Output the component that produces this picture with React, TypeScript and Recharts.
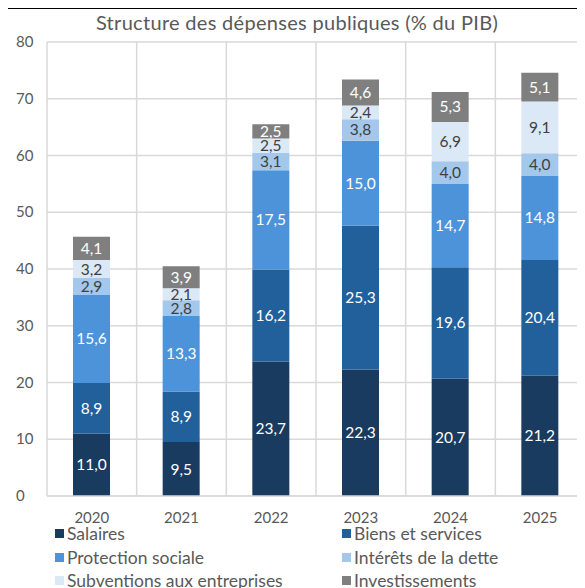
import { BarChart, Bar, XAxis, YAxis, CartesianGrid, LabelList } from 'recharts'

const years = ['2020', '2021', '2022', '2023', '2024', '2025']
const salaires = [11.0, 9.5, 23.7, 22.3, 20.7, 21.2]
const biens = [8.9, 8.9, 16.2, 25.3, 19.6, 20.4]
const protection = [15.6, 13.3, 17.5, 15.0, 14.7, 14.8]
const interets = [2.9, 2.8, 3.1, 3.8, 4.0, 4.0]
const subventions = [3.2, 2.1, 2.5, 2.4, 6.9, 9.1]
const investissements = [4.1, 3.9, 2.5, 4.6, 5.3, 5.1]
const yTicks = [0, 10, 20, 30, 40, 50, 60, 70, 80]

const FONT = 'Lato, "Open Sans", sans-serif'
const TEXT = '#595959'

const series = [
  { key: 'salaires', name: 'Salaires', color: '#183B5F', label: '#ffffff' },
  { key: 'biens', name: 'Biens et services', color: '#21609B', label: '#ffffff' },
  { key: 'protection', name: 'Protection sociale', color: '#4C93DA', label: '#ffffff' },
  { key: 'interets', name: 'Intérêts de la dette', color: '#A4C7EC', label: '#404040' },
  { key: 'subventions', name: 'Subventions aux entreprises', color: '#DBE8F6', label: '#404040' },
  { key: 'investissements', name: 'Investissements', color: '#7F7F7F', label: '#ffffff' },
]

const data = years.map((year, i) => ({
  year,
  salaires: salaires[i],
  biens: biens[i],
  protection: protection[i],
  interets: interets[i],
  subventions: subventions[i],
  investissements: investissements[i],
}))

const fmt = (v: any) => Number(v).toFixed(1).replace('.', ',')

const YTick = (props: any) => {
  const { y, payload } = props
  return (
    <text x={8} y={y} dy={5} textAnchor="start" fill={TEXT} fontSize={15} fontFamily={FONT}>
      {payload.value}
    </text>
  )
}

export default function App() {
  return (
    <div style={{ position: 'relative', width: 577, height: 580, fontFamily: FONT }}>
      <div style={{ position: 'absolute', left: 0, top: 0, width: 577, height: 1, background: '#000' }} />
      <div
        style={{
          position: 'absolute',
          left: 39,
          width: 500,
          top: 2,
          textAlign: 'center',
          fontSize: 20,
          letterSpacing: 0.3,
          color: TEXT,
        }}
      >
        Structure des dépenses publiques (% du PIB)
      </div>
      <div style={{ position: 'absolute', left: 0, top: 0 }}>
        <BarChart width={577} height={520} data={data} margin={{ top: 34, right: 0, bottom: 0, left: 0 }}>
          <CartesianGrid
            stroke="#d9d9d9"
            strokeWidth={1.5}
            verticalCoordinatesGenerator={({ offset }: any) =>
              years.map((_, i) => offset.left + (i * offset.width) / years.length).concat([offset.left + offset.width])
            }
          />
          <XAxis
            dataKey="year"
            height={32}
            axisLine={{ stroke: '#d9d9d9', strokeWidth: 1.5 }}
            tickLine={false}
            tick={{ fill: TEXT, fontSize: 15, fontFamily: FONT, dy: 8 }}
          />
          <YAxis
            width={39}
            domain={[0, 80]}
            ticks={yTicks}
            axisLine={false}
            tickLine={false}
            tick={<YTick />}
          />
          {series.map((s) => (
            <Bar key={s.key} dataKey={s.key} stackId="a" fill={s.color} barSize={37} isAnimationActive={false}>
              <LabelList
                dataKey={s.key}
                position="center"
                formatter={fmt}
                fill={s.label}
                fontSize={15.5}
                fontFamily={FONT}
              />
            </Bar>
          ))}
        </BarChart>
      </div>
      <div style={{ position: 'absolute', left: 0, top: 515, width: 577 }}>
        {series.map((s, i) => (
          <div
            key={s.key}
            style={{
              position: 'absolute',
              left: i % 2 === 0 ? 47 : 334,
              top: Math.floor(i / 2) * 23.5,
              display: 'flex',
              alignItems: 'center',
              fontSize: 17.5,
              color: TEXT,
              whiteSpace: 'nowrap',
            }}
          >
            <span style={{ display: 'inline-block', width: 9, height: 9, background: s.color, marginRight: 3 }} />
            {s.name}
          </div>
        ))}
      </div>
    </div>
  )
}
